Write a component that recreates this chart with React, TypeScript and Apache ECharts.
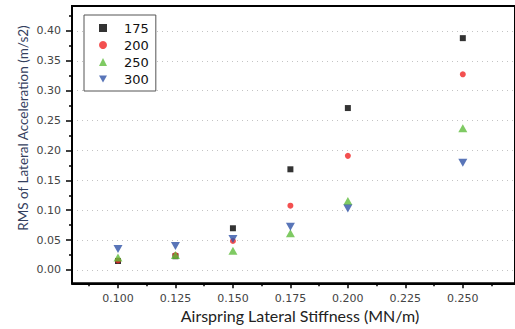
import React, { useEffect, useRef } from "react";
import * as echarts from "echarts";

const stiffness = [0.1, 0.125, 0.15, 0.175, 0.2, 0.25];
const rms175 = [0.015, 0.023, 0.0698, 0.1685, 0.271, 0.388];
const rms200 = [0.016, 0.025, 0.0485, 0.1076, 0.191, 0.3275];
const rms250 = [0.021, 0.025, 0.0323, 0.0614, 0.1155, 0.237];
const rms300 = [0.035, 0.040, 0.052, 0.0725, 0.103, 0.1796];

const seriesNames = ["175", "200", "250", "300"];

const xMajorTicks = [0.1, 0.125, 0.15, 0.175, 0.2, 0.225, 0.25];
const xMinorTicks = [0.0875, 0.1125, 0.1375, 0.1625, 0.1875, 0.2125, 0.2375, 0.2625];
const yMajorTicks = [0, 0.05, 0.1, 0.15, 0.2, 0.25, 0.3, 0.35, 0.4];
const yMinorTicks = [0.025, 0.075, 0.125, 0.175, 0.225, 0.275, 0.325, 0.375, 0.425];

const X_MIN = 0.08;
const X_MAX = 0.2727;
const Y_MIN = -0.0223;
const Y_MAX = 0.4418;

const DOWN_TRIANGLE = "path://M0,0 L10,0 L5,9 Z";

const pairs = (ys: number[]) => stiffness.map((x, i) => [x, ys[i]]);

export default function App() {
  const ref = useRef<HTMLDivElement>(null);
  useEffect(() => {
    if (!ref.current) return;
    const chart = echarts.init(ref.current, undefined, { renderer: "svg" });
    const labelFont = { fontFamily: "DejaVu Sans", fontSize: 11, color: "#444" };
    chart.setOption({
      animation: false,
      grid: {
        left: 72,
        top: 6,
        right: -10,
        bottom: 45.7,
        show: true,
        borderColor: "#000",
        borderWidth: 2,
        backgroundColor: "transparent",
      },
      legend: {
        orient: "vertical",
        left: 84,
        top: 15,
        padding: [6, 7, 5, 15],
        itemGap: 3,
        itemWidth: 8,
        itemHeight: 8,
        backgroundColor: "#fff",
        borderColor: "#555",
        borderWidth: 1,
        textStyle: {
          fontFamily: "DejaVu Sans",
          fontSize: 13,
          color: "#111",
          lineHeight: 14,
          padding: [0, 0, 0, 12],
        },
        data: seriesNames,
      },
      xAxis: [
        {
          type: "value",
          min: X_MIN,
          max: X_MAX,
          axisLine: { onZero: false, lineStyle: { color: "#000", width: 2 } },
          axisTick: { customValues: xMajorTicks, length: 5, lineStyle: { color: "#000", width: 1.5 } },
          axisLabel: {
            customValues: xMajorTicks,
            margin: 10,
            ...labelFont,
            formatter: (v: number) => v.toFixed(3),
          },
          splitLine: { show: false },
        },
        {
          type: "value",
          position: "bottom",
          min: X_MIN,
          max: X_MAX,
          axisLine: { show: false, onZero: false },
          axisTick: { show: true, customValues: xMinorTicks, length: 3, lineStyle: { color: "#000", width: 1.5 } },
          axisLabel: { show: false },
          splitLine: { show: false },
        },
      ],
      yAxis: [
        {
          type: "value",
          min: Y_MIN,
          max: Y_MAX,
          axisLine: { show: true, onZero: false, lineStyle: { color: "#000", width: 2 } },
          axisTick: { show: true, customValues: yMajorTicks, length: 6, lineStyle: { color: "#000", width: 1.5 } },
          axisLabel: {
            customValues: yMajorTicks,
            margin: 11,
            ...labelFont,
            formatter: (v: number) => v.toFixed(2),
          },
          splitLine: { show: true, lineStyle: { color: "#c4c4c4", type: [1, 4], width: 1 } },
        },
        {
          type: "value",
          position: "left",
          min: Y_MIN,
          max: Y_MAX,
          axisLine: { show: false, onZero: false },
          axisTick: { show: true, customValues: yMinorTicks, length: 3, lineStyle: { color: "#000", width: 1.5 } },
          axisLabel: { show: false },
          splitLine: { show: false },
        },
      ],
      series: [
        {
          name: "175",
          type: "scatter",
          symbol: "rect",
          symbolSize: 6,
          itemStyle: { color: "#000" },
          data: pairs(rms175),
        },
        {
          name: "200",
          type: "scatter",
          symbol: "circle",
          symbolSize: 6,
          itemStyle: { color: "#f02424" },
          data: pairs(rms200),
        },
        {
          name: "250",
          type: "scatter",
          symbol: "triangle",
          symbolSize: [9, 8],
          itemStyle: { color: "#5fbd3c" },
          data: pairs(rms250),
        },
        {
          name: "300",
          type: "scatter",
          symbol: DOWN_TRIANGLE,
          symbolSize: [9, 8],
          itemStyle: { color: "#2f52a6" },
          data: pairs(rms300),
        },
      ],
      graphic: [
        {
          type: "text",
          x: 300,
          y: 315,
          style: {
            text: "Airspring Lateral Stiffness (MN/m)",
            fontFamily: "Lato",
            fontSize: 16,
            fill: "#222",
            align: "center",
            verticalAlign: "middle",
          },
        },
        {
          type: "text",
          x: 23,
          y: 128,
          rotation: Math.PI / 2,
          style: {
            text: "RMS of Lateral Acceleration (m/s2)",
            fontFamily: "Lato",
            fontSize: 13.5,
            fill: "#34405e",
            align: "center",
            verticalAlign: "middle",
          },
        },
      ],
    });
    return () => chart.dispose();
  }, []);
  return (
    <div
      ref={ref}
      style={{ position: "fixed", left: 0, top: 0, width: 515, height: 329, background: "#fff" }}
    />
  );
}
